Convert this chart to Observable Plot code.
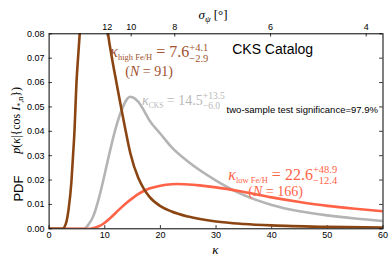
<!DOCTYPE html>
<html><head><meta charset="utf-8">
<script src="https://cdn.jsdelivr.net/npm/d3@7"></script>
<script src="https://cdn.jsdelivr.net/npm/@observablehq/plot@0.6"></script>
<style>body{margin:0;background:#fff}#chart svg{display:block}</style>
</head><body><div id="chart"></div>
<script>
// ---- data ----
const xTicks = [0, 10, 20, 30, 40, 50, 60];
const yTicks = [0, 0.01, 0.02, 0.03, 0.04, 0.05, 0.06, 0.07, 0.08];
const sigmaTicks = [12, 10, 8, 6, 4];               // top axis labels (deg)
const sigmaKappa = [10.44, 14.75, 22.58, 39.8, 56.98]; // their kappa positions

const kHigh = [0, 2, 2.4, 3, 3.5, 4, 4.3, 4.56, 4.74, 4.92, 5.2, 5.5, 6, 6.5, 7, 7.6, 8.2, 9, 10, 10.6, 11.3, 12.1, 13, 13.6, 14.6, 16, 17, 18, 20, 22, 25, 30, 35, 40, 50, 60];
const pHigh = [0, 0, 0, 0.002, 0.008, 0.019, 0.03, 0.04, 0.05, 0.06, 0.07, 0.08, 0.098, 0.115, 0.127, 0.133, 0.13, 0.116, 0.094, 0.08, 0.07, 0.06, 0.049, 0.042, 0.031, 0.021, 0.0165, 0.0132, 0.0093, 0.0071, 0.005, 0.003, 0.002, 0.0014, 0.0008, 0.0005];

const kCks = [0, 5, 6.2, 7, 8, 9, 10, 11, 12, 13, 14, 14.5, 15, 16, 17, 18, 20, 22, 25, 30, 35, 40, 45, 50, 55, 60];
const pCks = [0, 0, 0, 0.0015, 0.0055, 0.013, 0.0225, 0.0325, 0.0415, 0.0485, 0.0532, 0.0542, 0.054, 0.0522, 0.0487, 0.0446, 0.039, 0.0335, 0.0275, 0.0198, 0.0138, 0.0098, 0.0072, 0.0055, 0.0042, 0.0032];

const kLow = [0, 7, 7.5, 8, 9, 10, 11, 12, 13, 14, 15, 16, 17, 18, 20, 22, 23, 25, 27, 30, 35, 40, 45, 50, 55, 60];
const pLow = [0, 0, 0, 0.0003, 0.0011, 0.0025, 0.0044, 0.0066, 0.0088, 0.0108, 0.0126, 0.0142, 0.0155, 0.0165, 0.0177, 0.0183, 0.0184, 0.0182, 0.0178, 0.017, 0.0151, 0.0129, 0.011, 0.0094, 0.0082, 0.0072];

const labelHigh = ["κ", "high Fe/H", " = 7.6", "+4.1", "−2.9"];
const labelCks  = ["κ", "CKS", " = 14.5", "+13.5", "−6.0"];
const labelLow  = ["κ", "low Fe/H", " = 22.6", "+48.9", "−12.4"];
const nHigh = "(N = 91)";
const nLow = "(N = 166)";
const catalogTitle = "CKS Catalog";
const sigText = "two-sample test significance=97.9%";

const series = [
  {name: "CKS", k: kCks, p: pCks},
  {name: "low", k: kLow, p: pLow},
  {name: "high", k: kHigh, p: pHigh}
];
const rows = series.flatMap(s => s.k.map((k, i) => ({series: s.name, k, p: s.p[i]})));

const colors = {high: "#8b4513", CKS: "#b4b4b4", low: "#ff6347"};
const serif = "'Liberation Serif','DejaVu Serif',serif";
const sans = "'Liberation Sans',Arial,sans-serif";
const sigmaLabel = new Map(sigmaKappa.map((k, i) => [k, String(sigmaTicks[i])]));

const keyOf = a => a.join("");

const chart = Plot.plot({
  width: 390, height: 260,
  marginLeft: 48.6, marginRight: 7.5, marginTop: 33.3, marginBottom: 31.7,
  style: {fontFamily: sans, fontSize: "9px", background: "white", color: "black"},
  x: {domain: [0, 60]},
  y: {domain: [0, 0.08]},
  marks: [
    Plot.axisY({ticks: yTicks, tickFormat: d3.format(".2f"), tickSize: 0, tickPadding: 4.5, label: null, fontSize: 9}),
    Plot.axisX({ticks: xTicks, tickSize: 0, tickPadding: 3, label: null, fontSize: 9}),
    Plot.axisX({anchor: "top", ticks: sigmaKappa, tickFormat: d => sigmaLabel.get(d), tickSize: 0, tickPadding: 3.5, label: null, fontSize: 9}),
    Plot.ruleY(yTicks, {x1: 0, x2: 0.6, stroke: "black", strokeWidth: 0.8}),
    Plot.ruleY(yTicks, {x1: 59.4, x2: 60, stroke: "black", strokeWidth: 0.8}),
    Plot.ruleX(xTicks, {y1: 0, y2: 0.0013, stroke: "black", strokeWidth: 0.8}),
    Plot.ruleX(sigmaKappa, {y1: 0.0787, y2: 0.08, stroke: "black", strokeWidth: 0.8}),
    Plot.line(rows, {x: "k", y: "p", z: "series", stroke: d => colors[d.series], strokeWidth: 2.6, curve: "monotone-x", clip: true}),
    Plot.frame({stroke: "black", strokeWidth: 1}),
    // annotations
    Plot.text([keyOf(labelHigh)], {x: 11.0, y: 0.0704, text: d => d, textAnchor: "start", lineAnchor: "bottom", fill: "#a0522d", fontFamily: serif, fontSize: 16}),
    Plot.text([nHigh], {x: 13.7, y: 0.0625, text: d => d, textAnchor: "start", lineAnchor: "bottom", fill: "#a0522d", fontFamily: serif, fontSize: 14}),
    Plot.text([keyOf(labelCks)], {x: 16.7, y: 0.0508, text: d => d, textAnchor: "start", lineAnchor: "bottom", fill: "#b8b8b8", fontFamily: serif, fontSize: 14}),
    Plot.text([keyOf(labelLow)], {x: 32.2, y: 0.0202, text: d => d, textAnchor: "start", lineAnchor: "bottom", fill: "#ff6347", fontFamily: serif, fontSize: 16}),
    Plot.text([nLow], {x: 35.8, y: 0.0135, text: d => d, textAnchor: "start", lineAnchor: "bottom", fill: "#ff6347", fontFamily: serif, fontSize: 14}),
    Plot.text([catalogTitle], {x: 32.9, y: 0.0719, text: d => d, textAnchor: "start", lineAnchor: "bottom", fill: "black", fontFamily: sans, fontSize: 14}),
    Plot.text([sigText], {x: 31.9, y: 0.0477, text: d => d, textAnchor: "start", lineAnchor: "bottom", fill: "black", fontFamily: sans, fontSize: 9.5}),
    // axis titles
    Plot.text(["κ"], {x: 29.9, y: -0.0085, text: d => d, fontFamily: serif, fontStyle: "italic", fontSize: 13, fill: "black"}),
    Plot.text(["σψ [°]"], {x: 26.85, y: 0.0878, text: d => d, textAnchor: "start", fontFamily: serif, fontSize: 13, fill: "black"}),
    Plot.text(["PDF"], {x: -5.5, y: 0.0165, text: d => d, rotate: -90, fontFamily: sans, fontSize: 13, fill: "black"}),
    Plot.text(["p(κ|{cos I*,n})"], {x: -5.9, y: 0.0308, text: d => d, textAnchor: "start", rotate: -90, fontFamily: serif, fontSize: 12, fill: "black"})
  ]
});
document.getElementById("chart").appendChild(chart);

// ---- rich text (sub/superscripts) ----
const NS = "http://www.w3.org/2000/svg";
function rich(el, segs) {
  el.textContent = "";
  let cur = 0, prev = null;
  for (const s of segs) {
    const ts = document.createElementNS(NS, "tspan");
    ts.textContent = s.t;
    if (s.size) ts.setAttribute("font-size", s.size);
    if (s.italic) ts.setAttribute("font-style", "italic");
    if (s.family) ts.setAttribute("font-family", s.family);
    const target = s.shift || 0;
    const dy = target - cur; cur = target;
    if (dy) ts.setAttribute("dy", dy);
    el.appendChild(ts);
    if (s.back && prev) ts.setAttribute("dx", -prev.getComputedTextLength());
    prev = ts;
  }
}
function kappaSpec(a, M, sub, sup) {
  return [
    {t: a[0], size: M, italic: true},
    {t: a[1], size: sub, shift: M * 0.2},
    {t: a[2], size: M},
    {t: a[3], size: sup, shift: -M * 0.4},
    {t: a[4], size: sup, shift: M * 0.27, back: true}
  ];
}
const nSpec = s => [{t: "(", size: 14}, {t: "N", size: 14, italic: true}, {t: s.slice(2), size: 14}];
const specs = new Map([
  [keyOf(labelHigh), kappaSpec(labelHigh, 16, 8.5, 10.5)],
  [keyOf(labelLow), kappaSpec(labelLow, 16, 8.5, 10.5)],
  [keyOf(labelCks), kappaSpec(labelCks, 14, 7.5, 9.5)],
  [nHigh, nSpec(nHigh)],
  [nLow, nSpec(nLow)],
  ["σψ [°]", [{t: "σ", italic: true, size: 13}, {t: "ψ", italic: true, size: 9, shift: 3}, {t: " [°]", size: 13}]],
  ["p(κ|{cos I*,n})", [{t: "p", italic: true}, {t: "("}, {t: "κ", italic: true}, {t: "|{cos "}, {t: "I", italic: true}, {t: "*,n", size: 8, shift: 3}, {t: "})"}]]
]);
chart.querySelectorAll("text").forEach(el => {
  const sp = specs.get(el.textContent);
  if (sp) rich(el, sp);
});
</script>
</body></html>
